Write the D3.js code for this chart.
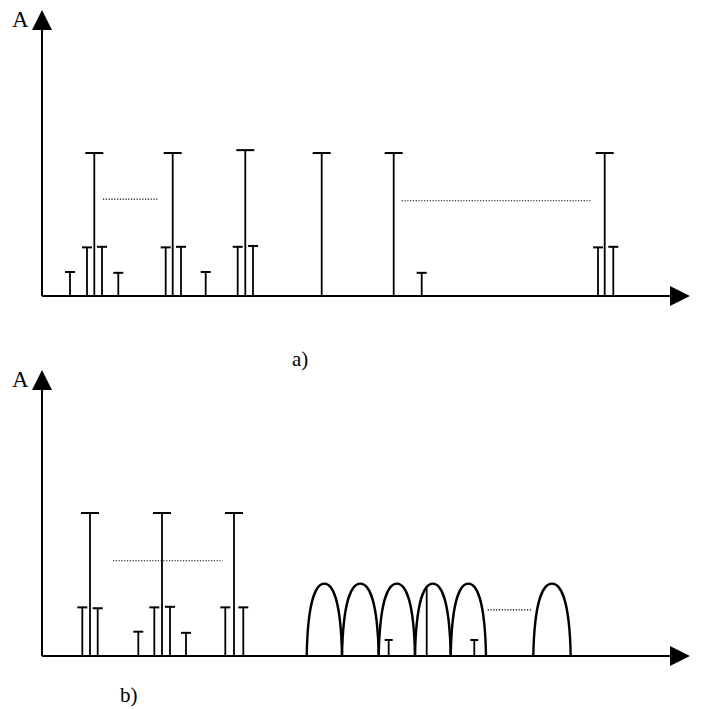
<!DOCTYPE html>
<html>
<head>
<meta charset="utf-8">
<script src="https://cdn.jsdelivr.net/npm/d3@7"></script>
<style>
  html, body { margin: 0; padding: 0; background: #fff; }
  svg { display: block; }
  text { font-family: "Liberation Serif", "Times New Roman", serif; fill: #000; }
</style>
</head>
<body>
<script>
// ---------- DATA (x position along frequency axis in units, amplitude 0-100) ----------
// Panel a)
const aStemX   = [28, 45, 52.3, 60, 76.3, 123.7, 130.7, 139, 163.7, 195.7, 203.3, 211, 279.7, 351.7, 379.7, 556, 562.7, 571.3];
const aStemAmp = [8.4, 17, 50, 17.2, 8.1, 17, 50, 17.2, 8.4, 17.2, 51, 17.5, 50, 50, 8.1, 17, 50, 17.2];
const aDots    = [[61, 117, 33.9], [359.7, 548.7, 33.3]];

// Panel b)
const bStemX   = [40.3, 48, 55.7, 96.3, 112.3, 120, 128, 144, 183.3, 192, 201.3, 346.7, 432.3];
const bStemAmp = [17, 50, 16.7, 8.5, 17, 50, 17.2, 8.1, 17, 50, 17, 5.6, 5.6];
const bArchStart = [264.7, 300, 336.7, 373, 408.7, 491.3];
const bArchEnd   = [300, 336.7, 373, 408.7, 444, 528.7];
const bArchAmp   = [25.3, 25.3, 25.3, 25.3, 25.3, 25.3];
const bLineX   = [384.7];
const bLineAmp = [23.7];
const bDots    = [[71, 180.7, 33.3], [445.7, 489.7, 16.1]];

const panelLabels = ["a)", "b)"];
const axisLabel = "A";

// ---------- LAYOUT ----------
const W = 703, H = 709;
const svg = d3.select("body").append("svg").attr("width", W).attr("height", H);

function panel(g, cfg) {
  const x = d3.scaleLinear().domain([0, 648]).range([42, 690]);
  const y = d3.scaleLinear().domain([0, 100]).range([cfg.base, cfg.base - 286]);

  // axes
  g.append("line").attr("x1", x(0)).attr("x2", x(628)).attr("y1", y(0)).attr("y2", y(0))
    .attr("stroke", "#000").attr("stroke-width", 2);
  g.append("line").attr("x1", x(0)).attr("x2", x(0)).attr("y1", y(0)).attr("y2", y(93))
    .attr("stroke", "#000").attr("stroke-width", 2);
  // arrow heads
  g.append("path").attr("d", `M${x(628)},${y(0)-10} L${x(648)},${y(0)} L${x(628)},${y(0)+10} Z`).attr("fill", "#000");
  g.append("path").attr("d", `M${x(0)-10},${y(93)} L${x(0)},${y(100)} L${x(0)+10},${y(93)} Z`).attr("fill", "#000");

  g.append("text").attr("x", 12).attr("y", cfg.base - 269).attr("font-size", 23).text(axisLabel);

  // stems
  const stems = cfg.stemX.map((v, i) => ({ x: v, a: cfg.stemAmp[i] }));
  g.selectAll(".stem").data(stems).join("line").attr("class", "stem")
    .attr("x1", d => x(d.x)).attr("x2", d => x(d.x))
    .attr("y1", y(0)).attr("y2", d => y(d.a))
    .attr("stroke", "#000").attr("stroke-width", 1.8);
  g.selectAll(".cap").data(stems).join("line").attr("class", "cap")
    .attr("x1", d => x(d.x) - (d.a > 30 ? 9 : (d.a > 7 ? 5 : 4)))
    .attr("x2", d => x(d.x) + (d.a > 30 ? 9 : (d.a > 7 ? 5 : 4)))
    .attr("y1", d => y(d.a)).attr("y2", d => y(d.a))
    .attr("stroke", "#000").attr("stroke-width", 2);

  // dotted lines
  g.selectAll(".dots").data(cfg.dots).join("line").attr("class", "dots")
    .attr("x1", d => x(d[0])).attr("x2", d => x(d[1]))
    .attr("y1", d => y(d[2])).attr("y2", d => y(d[2]))
    .attr("stroke", "#000").attr("stroke-width", 1.2).attr("stroke-dasharray", "1.2,1.6");

  if (cfg.archStart) {
    const arches = cfg.archStart.map((v, i) => ({ s: v, e: cfg.archEnd[i], a: cfg.archAmp[i] }));
    g.selectAll(".arch").data(arches).join("path").attr("class", "arch")
      .attr("d", d => {
        const x0 = x(d.s), x1 = x(d.e), b = y(0), t = y(d.a);
        const w = x1 - x0, h = b - t, xc = (x0 + x1) / 2;
        return `M${x0},${b} C${x0 + 0.03 * w},${b - 0.8 * h} ${xc - 0.22 * w},${t} ${xc},${t}` +
               ` C${xc + 0.22 * w},${t} ${x1 - 0.03 * w},${b - 0.8 * h} ${x1},${b}`;
      })
      .attr("fill", "none").attr("stroke", "#000").attr("stroke-width", 2.4);
    const lines = cfg.lineX.map((v, i) => ({ x: v, a: cfg.lineAmp[i] }));
    g.selectAll(".pline").data(lines).join("line").attr("class", "pline")
      .attr("x1", d => x(d.x)).attr("x2", d => x(d.x))
      .attr("y1", y(0)).attr("y2", d => y(d.a))
      .attr("stroke", "#000").attr("stroke-width", 1.8);
  }

  g.append("text").attr("x", cfg.labelX).attr("y", cfg.labelY).attr("font-size", 21)
    .text(cfg.label);
}

panel(svg.append("g"), { base: 296, stemX: aStemX, stemAmp: aStemAmp, dots: aDots,
  label: panelLabels[0], labelX: 292, labelY: 366 });
panel(svg.append("g"), { base: 656, stemX: bStemX, stemAmp: bStemAmp, dots: bDots,
  archStart: bArchStart, archEnd: bArchEnd, archAmp: bArchAmp, lineX: bLineX, lineAmp: bLineAmp,
  label: panelLabels[1], labelX: 120, labelY: 702 });
</script>
</body>
</html>
